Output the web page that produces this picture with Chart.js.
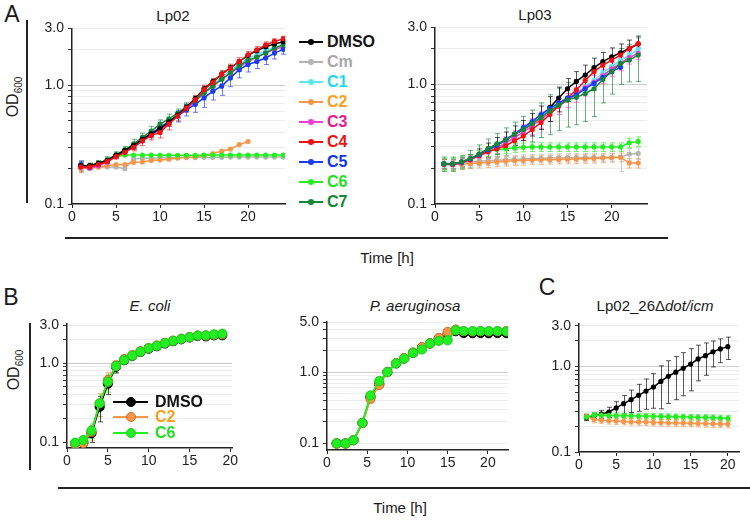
<!DOCTYPE html>
<html>
<head>
<meta charset="utf-8">
<script src="https://cdn.jsdelivr.net/npm/chart.js@4.4.0/dist/chart.umd.min.js"></script>
<style>
body { margin: 0; background: #fff; font-family: 'Liberation Sans', Arial, sans-serif; }
#wrap { position: relative; width: 750px; height: 520px; overflow: hidden; background: #fff; }
#wrap canvas { position: absolute; }
.t { position: absolute; transform: translate(-50%, -50%); white-space: nowrap; color: #1a1a1a; }
.letter { font-size: 23px; }
.title { font-size: 15px; }
.od { font-size: 16px; transform: translate(-50%, -50%) rotate(-90deg); }
.od sub { font-size: 10px; }
.rule { position: absolute; background: #222; }
.leg { position: absolute; font-weight: bold; font-size: 16px; white-space: nowrap; }
.leg .ln { position: absolute; height: 2px; }
.leg .dot { position: absolute; border-radius: 50%; }
</style>
</head>
<body>
<div id="wrap">
  <div class="t letter" style="left:12px;top:14px">A</div>
  <div class="t title" style="left:173px;top:15px">Lp02</div>
  <div class="t title" style="left:535px;top:14px">Lp03</div>
  <div class="t od" style="left:14px;top:97px">OD<sub>600</sub></div>
  <div class="rule" style="left:26px;top:20px;width:2px;height:183px"></div>
  <div class="rule" style="left:65px;top:237px;width:603px;height:2px"></div>
  <div class="t title" style="left:387px;top:257px">Time [h]</div>

  <div class="t letter" style="left:11px;top:297px">B</div>
  <div class="t title" style="left:150px;top:305px"><i>E. coli</i></div>
  <div class="t title" style="left:415px;top:305px"><i>P. aeruginosa</i></div>
  <div class="t letter" style="left:547px;top:287px">C</div>
  <div class="t title" style="left:655px;top:305px">Lp02_26Δ<i>dot/icm</i></div>
  <div class="t od" style="left:15px;top:370px">OD<sub>600</sub></div>
  <div class="rule" style="left:29px;top:323px;width:2px;height:147px"></div>
  <div class="rule" style="left:58px;top:487px;width:692px;height:2px"></div>
  <div class="t title" style="left:400px;top:507px">Time [h]</div>
</div>
<script>
// ---- panel A, Lp02 ----
var lp02Hours = [1,2,3,4,5,6,7,8,9,10,11,12,13,14,15,16,17,18,19,20,21,22,23,24];
var lp02DMSO = [0.21,0.21,0.22,0.232,0.256,0.282,0.31,0.35,0.39,0.43,0.49,0.56,0.65,0.77,0.93,1.07,1.24,1.40,1.58,1.78,1.95,2.10,2.22,2.32];
var lp02Cm   = [0.205,0.205,0.205,0.205,0.205,0.198,0.24,0.242,0.243,0.244,0.245,0.245,0.246,0.246,0.247,0.247,0.247,0.248,0.248,0.248,0.248,0.248,0.248,0.248];
var lp02C1   = [0.21,0.205,0.215,0.23,0.255,0.28,0.31,0.35,0.39,0.44,0.50,0.56,0.64,0.74,0.88,1.0,1.16,1.32,1.50,1.68,1.80,1.94,2.08,2.18];
var lp02C2   = [0.2,0.2,0.205,0.21,0.215,0.215,0.224,0.226,0.232,0.235,0.238,0.244,0.248,0.25,0.256,0.266,0.278,0.29,0.316,0.335];
var lp02C3   = [0.205,0.2,0.21,0.225,0.25,0.275,0.30,0.34,0.38,0.42,0.48,0.55,0.63,0.73,0.86,0.98,1.12,1.26,1.42,1.58,1.72,1.86,2.0,2.1];
var lp02C4   = [0.205,0.205,0.215,0.228,0.25,0.272,0.30,0.34,0.376,0.40,0.47,0.55,0.64,0.75,0.92,1.05,1.23,1.39,1.58,1.80,1.98,2.18,2.33,2.45];
var lp02C5   = [0.215,0.205,0.215,0.23,0.255,0.28,0.31,0.35,0.39,0.44,0.49,0.55,0.62,0.69,0.78,0.89,0.98,1.15,1.35,1.49,1.58,1.69,1.86,2.0];
var lp02C6   = [0.21,0.21,0.22,0.235,0.25,0.258,0.258,0.258,0.258,0.257,0.257,0.257,0.257,0.257,0.258,0.258,0.258,0.258,0.258,0.258,0.258,0.258,0.258,0.258];
var lp02C7   = [0.21,0.21,0.22,0.235,0.26,0.285,0.32,0.364,0.41,0.47,0.52,0.58,0.66,0.74,0.86,0.98,1.12,1.27,1.45,1.62,1.72,1.86,2.05,2.18];
var lp02ErrDMSO = [0.01,0.01,0.01,0.01,0.01,0.01,0.01,0.01,0.02,0.02,0.02,0.03,0.03,0.04,0.04,0.05,0.05,0.06,0.06,0.07,0.07,0.08,0.08,0.08];
var lp02ErrC1   = [0.01,0.01,0.01,0.01,0.01,0.01,0.01,0.02,0.02,0.02,0.03,0.03,0.03,0.04,0.04,0.05,0.06,0.07,0.08,0.08,0.08,0.08,0.08,0.08];
var lp02ErrC4   = [0.02,0.01,0.01,0.01,0.01,0.01,0.02,0.03,0.03,0.04,0.05,0.05,0.05,0.06,0.08,0.09,0.1,0.11,0.12,0.12,0.13,0.13,0.12,0.12];
var lp02ErrC5   = [0.015,0.01,0.01,0.01,0.01,0.01,0.02,0.02,0.03,0.03,0.04,0.06,0.07,0.1,0.13,0.14,0.16,0.18,0.2,0.2,0.2,0.2,0.2,0.18];
var lp02ErrC7   = [0.02,0.01,0.01,0.015,0.015,0.02,0.03,0.03,0.04,0.04,0.05,0.05,0.05,0.06,0.07,0.08,0.1,0.12,0.14,0.12,0.1,0.1,0.1,0.1];

// ---- panel A, Lp03 ----
var lp03Hours = [1,2,3,4,5,6,7,8,9,10,11,12,13,14,15,16,17,18,19,20,21,22,23];
var lp03DMSO = [0.217,0.217,0.224,0.239,0.259,0.283,0.31,0.34,0.38,0.42,0.47,0.54,0.64,0.77,0.92,1.06,1.20,1.38,1.55,1.70,1.84,2.0,2.18];
var lp03Cm   = [0.22,0.218,0.222,0.225,0.228,0.23,0.232,0.234,0.236,0.238,0.24,0.241,0.242,0.243,0.244,0.245,0.245,0.246,0.246,0.246,0.246,0.262,0.265];
var lp03C1   = [0.217,0.217,0.224,0.238,0.258,0.283,0.31,0.342,0.382,0.43,0.48,0.55,0.62,0.69,0.76,0.84,0.96,1.08,1.25,1.42,1.58,1.77,1.95];
var lp03C2   = [0.215,0.213,0.215,0.218,0.22,0.222,0.225,0.228,0.23,0.231,0.233,0.234,0.235,0.236,0.237,0.238,0.239,0.24,0.242,0.244,0.246,0.22,0.22];
var lp03C3   = [0.215,0.213,0.22,0.234,0.252,0.272,0.295,0.325,0.36,0.40,0.45,0.51,0.58,0.66,0.74,0.83,0.94,1.04,1.18,1.35,1.50,1.68,1.82];
var lp03C4   = [0.215,0.215,0.222,0.235,0.255,0.275,0.29,0.307,0.338,0.37,0.42,0.48,0.56,0.66,0.77,0.90,1.08,1.28,1.45,1.60,1.76,2.0,2.2];
var lp03C5   = [0.217,0.217,0.224,0.239,0.259,0.285,0.31,0.345,0.385,0.435,0.49,0.56,0.63,0.70,0.77,0.82,0.92,1.02,1.14,1.28,1.39];
var lp03C6   = [0.217,0.217,0.224,0.236,0.255,0.275,0.285,0.29,0.295,0.298,0.30,0.30,0.30,0.30,0.30,0.30,0.30,0.30,0.30,0.30,0.30,0.325,0.334];
var lp03C7   = [0.217,0.217,0.225,0.24,0.262,0.29,0.318,0.343,0.384,0.42,0.47,0.53,0.60,0.67,0.74,0.78,0.84,0.92,1.10,1.28,1.50,1.60,1.76];
var lp03ErrDMSO = [0.02,0.02,0.02,0.02,0.03,0.04,0.05,0.06,0.07,0.08,0.1,0.12,0.15,0.18,0.2,0.22,0.25,0.28,0.3,0.32,0.34,0.35,0.36];
var lp03ErrCm   = [0.02,0.02,0.02,0.02,0.02,0.02,0.02,0.02,0.02,0.02,0.02,0.02,0.02,0.02,0.02,0.02,0.02,0.02,0.02,0.02,0.06,0.03,0.03];
var lp03ErrC2   = [0.02,0.02,0.02,0.02,0.02,0.02,0.02,0.02,0.02,0.02,0.02,0.02,0.02,0.02,0.02,0.02,0.02,0.02,0.02,0.02,0.02,0.02,0.02];
var lp03ErrC3   = [0.02,0.02,0.02,0.02,0.02,0.03,0.03,0.04,0.05,0.06,0.07,0.08,0.09,0.1,0.1,0.12,0.14,0.15,0.16,0.18,0.2,0.2,0.2];
var lp03ErrC6   = [0.025,0.025,0.025,0.025,0.025,0.025,0.025,0.025,0.025,0.025,0.025,0.025,0.025,0.025,0.025,0.025,0.025,0.025,0.025,0.025,0.025,0.03,0.03];
var lp03ErrC7   = [0.03,0.03,0.03,0.04,0.05,0.06,0.07,0.09,0.1,0.12,0.14,0.17,0.22,0.26,0.3,0.32,0.35,0.38,0.4,0.45,0.5,0.55,0.7];

// ---- panel B ----
var ecoliHours = [1,2,3,4,5,6,7,8,9,10,11,12,13,14,15,16,17,18,19];
var ecoliDMSO = [0.096,0.098,0.129,0.28,0.55,0.90,1.09,1.24,1.39,1.53,1.64,1.78,1.90,2.01,2.12,2.21,2.19,2.26,2.26];
var ecoliC2   = [0.094,0.097,0.135,0.31,0.61,0.93,1.13,1.27,1.42,1.56,1.68,1.82,1.94,2.05,2.15,2.25,2.24,2.3,2.32];
var ecoliC6   = [0.098,0.106,0.14,0.31,0.58,0.92,1.10,1.25,1.40,1.55,1.66,1.80,1.92,2.03,2.14,2.24,2.26,2.32,2.37];
var ecoliErr  = [0.005,0.01,0.03,0.1,0.15,0.15,0.08,0.05,0.05,0.05,0.05,0.05,0.05,0.05,0.05,0.05,0.05,0.05,0.05];

var paHours = [1.2,2.3,3.3,4.4,5.4,6.5,7.5,8.6,9.6,10.7,11.8,12.8,13.9,15.0,16.0,17.0,18.1,19.1,20.1,21.2,22.3];
var paDMSO = [0.099,0.099,0.11,0.193,0.45,0.68,1.01,1.33,1.56,1.87,2.23,2.54,2.98,3.5,3.78,3.57,3.55,3.57,3.55,3.57,3.57];
var paC2   = [0.098,0.098,0.11,0.19,0.42,0.66,1.0,1.35,1.58,1.9,2.25,2.56,3.05,3.7,4.0,3.8,3.75,3.78,3.75,3.78,3.8];
var paC6   = [0.099,0.099,0.11,0.193,0.47,0.75,1.0,1.33,1.56,1.87,2.09,2.54,2.76,2.82,3.9,3.8,3.8,3.8,3.8,3.8,3.75];

// ---- panel C ----
var dotHours = [1,2,3,4,5,6,7,8,9,10,11,12,13,14,15,16,17,18,19,20];
var dotDMSO = [0.253,0.264,0.277,0.294,0.328,0.368,0.41,0.46,0.516,0.575,0.67,0.77,0.86,0.955,1.07,1.23,1.34,1.49,1.61,1.71];
var dotC2   = [0.26,0.24,0.235,0.232,0.23,0.228,0.226,0.225,0.224,0.222,0.221,0.22,0.219,0.218,0.217,0.216,0.215,0.214,0.213,0.212];
var dotC6   = [0.257,0.27,0.27,0.268,0.267,0.266,0.265,0.264,0.263,0.262,0.261,0.26,0.259,0.258,0.256,0.255,0.254,0.252,0.25,0.248];
var dotErrDMSO = [0.02,0.02,0.03,0.04,0.06,0.09,0.12,0.16,0.2,0.25,0.35,0.4,0.45,0.5,0.55,0.55,0.55,0.5,0.5,0.5];
var dotErrSmall = [0.02,0.02,0.02,0.02,0.02,0.02,0.02,0.02,0.02,0.02,0.02,0.02,0.02,0.02,0.02,0.02,0.02,0.02,0.02,0.02];

// tick labels
var yTicksA = [0.1,0.2,0.3,0.4,0.5,0.6,0.7,0.8,0.9,1,2,3];
var yLabelsA = [0.1,1,3];
var yTicksPa = [0.1,0.2,0.3,0.4,0.5,0.6,0.7,0.8,0.9,1,2,3,4,5];
var yLabelsPa = [0.1,1,5];

// legend
var compounds = ['DMSO','Cm','C1','C2','C3','C4','C5','C6','C7'];
var lineColors = {DMSO:'#000000', Cm:'#b4b4b4', C1:'#5ee6f2', C2:'#f7964a', C3:'#f03cd2', C4:'#ee1111', C5:'#1a3cf0', C6:'#22ee22', C7:'#15873a'};
var textColors = {DMSO:'#111111', Cm:'#a8a8a8', C1:'#22d8f0', C2:'#f7a020', C3:'#e8188c', C4:'#ee1111', C5:'#1133ee', C6:'#22e022', C7:'#118833'};

var tickFont = {family: "'Liberation Sans', Arial, sans-serif", size: 14};

function pts(xs, ys) {
  return ys.map(function(v, i) { return {x: xs[i], y: v}; });
}

function line(name, xs, ys, err, r, order) {
  return {
    label: name, data: pts(xs, ys), err: err,
    borderColor: lineColors[name], backgroundColor: lineColors[name],
    pointBackgroundColor: lineColors[name], borderWidth: 1.5,
    pointRadius: r || 2.6, pointBorderWidth: 0, tension: 0, order: order || 0
  };
}

function bigLine(name, xs, ys, err, edge, order) {
  var d = line(name, xs, ys, err, 4.6, order);
  d.pointBorderWidth = 1;
  d.pointBorderColor = edge;
  d.borderWidth = 1.8;
  return d;
}

var errorBars = {
  id: 'errorBars',
  beforeDatasetsDraw: function(chart) {
    var ctx = chart.ctx, ys = chart.scales.y, area = chart.chartArea;
    chart.data.datasets.forEach(function(ds, i) {
      if (!ds.err) return;
      var meta = chart.getDatasetMeta(i);
      ctx.save();
      ctx.strokeStyle = ds.borderColor;
      ctx.globalAlpha = 0.65;
      ctx.lineWidth = 1;
      meta.data.forEach(function(el, j) {
        var v = ds.data[j].y, e = ds.err[j];
        if (!e) return;
        var top = ys.getPixelForValue(v + e);
        var bot = v - e > ys.min ? ys.getPixelForValue(v - e) : area.bottom;
        var x = Math.round(el.x) + 0.5;
        ctx.beginPath();
        ctx.moveTo(x, top); ctx.lineTo(x, bot);
        ctx.moveTo(x - 2.5, top); ctx.lineTo(x + 2.5, top);
        if (bot < area.bottom) { ctx.moveTo(x - 2.5, bot); ctx.lineTo(x + 2.5, bot); }
        ctx.stroke();
      });
      ctx.restore();
    });
  }
};

// area = [left, top, right, bottom] of the plot box
function panel(area, xMax, yMin, yMax, yTicks, yLabels, datasets) {
  var YW = 44, PT = 12, PR = 10, XH = 28;
  var c = document.createElement('canvas');
  c.width = area[2] - area[0] + YW + PR;
  c.height = area[3] - area[1] + PT + XH;
  c.style.left = (area[0] - YW) + 'px';
  c.style.top = (area[1] - PT) + 'px';
  document.getElementById('wrap').appendChild(c);
  return new Chart(c, {
    type: 'line',
    data: {datasets: datasets},
    options: {
      responsive: false, animation: false, events: [],
      layout: {padding: {top: PT, right: PR, left: 0, bottom: 0}},
      plugins: {legend: {display: false}, tooltip: {enabled: false}},
      scales: {
        x: {
          type: 'linear', min: 0, max: xMax,
          afterFit: function(s) { s.height = XH; },
          afterBuildTicks: function(s) {
            var t = [];
            for (var v = 0; v <= xMax; v += 5) t.push({value: v});
            s.ticks = t;
          },
          ticks: {font: tickFont, color: '#222', padding: 1, maxRotation: 0, autoSkip: false},
          grid: {drawOnChartArea: false, tickLength: 4, color: '#222'},
          border: {color: '#222', width: 1.5}
        },
        y: {
          type: 'logarithmic', min: yMin, max: yMax,
          afterFit: function(s) { s.width = YW; },
          afterBuildTicks: function(s) { s.ticks = yTicks.map(function(v) { return {value: v}; }); },
          ticks: {
            font: tickFont, color: '#222', padding: 4, autoSkip: false,
            callback: function(v) { return yLabels.indexOf(v) >= 0 ? v.toFixed(1) : ''; }
          },
          grid: {
            tickLength: 4, tickColor: '#333',
            color: function(c) { return c.tick && c.tick.value === 1 ? '#cccccc' : '#ececec'; }
          },
          border: {color: '#222', width: 1.5}
        }
      }
    },
    plugins: [errorBars]
  });
}

panel([72, 28, 285, 204], 24.2, 0.1, 3, yTicksA, yLabelsA, [
  line('C4', lp02Hours, lp02C4, lp02ErrC4, 0, 1),
  line('DMSO', lp02Hours, lp02DMSO, lp02ErrDMSO, 0, 2),
  line('C7', lp02Hours, lp02C7, lp02ErrC7, 0, 3),
  line('C5', lp02Hours, lp02C5, lp02ErrC5, 0, 4),
  line('C3', lp02Hours, lp02C3, null, 0, 5),
  line('C1', lp02Hours, lp02C1, lp02ErrC1, 0, 6),
  line('C6', lp02Hours, lp02C6, null, 0, 7),
  line('C2', lp02Hours.slice(0, lp02C2.length), lp02C2, null, 0, 8),
  line('Cm', lp02Hours, lp02Cm, null, 0, 9)
]);

panel([435, 27, 647, 204], 24, 0.1, 3, yTicksA, yLabelsA, [
  line('C7', lp03Hours, lp03C7, lp03ErrC7, 0, 1),
  line('C5', lp03Hours.slice(0, lp03C5.length), lp03C5, null, 0, 2),
  line('C4', lp03Hours, lp03C4, null, 0, 3),
  line('C3', lp03Hours, lp03C3, lp03ErrC3, 0, 4),
  line('C1', lp03Hours, lp03C1, null, 0, 5),
  line('DMSO', lp03Hours, lp03DMSO, lp03ErrDMSO, 0, 6),
  line('C2', lp03Hours, lp03C2, lp03ErrC2, 0, 7),
  line('Cm', lp03Hours, lp03Cm, lp03ErrCm, 0, 8),
  line('C6', lp03Hours, lp03C6, lp03ErrC6, 0, 9)
]);

panel([67, 323, 232, 448], 20.2, 0.084, 3.2, yTicksA, yLabelsA, [
  bigLine('C6', ecoliHours, ecoliC6, ecoliErr, '#1ccc1c', 1),
  bigLine('C2', ecoliHours, ecoliC2, ecoliErr, '#c8702a', 2),
  bigLine('DMSO', ecoliHours, ecoliDMSO, ecoliErr, '#000000', 3)
]);

panel([327, 321, 508, 450], 22.5, 0.08, 5.2, yTicksPa, yLabelsPa, [
  bigLine('C6', paHours, paC6, null, '#1ccc1c', 1),
  bigLine('C2', paHours, paC2, null, '#c8702a', 2),
  bigLine('DMSO', paHours, paDMSO, null, '#000000', 3)
]);

panel([579, 323, 739, 452], 21.5, 0.1, 3.2, yTicksA, yLabelsA, [
  line('C6', dotHours, dotC6, dotErrSmall, 0, 1),
  line('C2', dotHours, dotC2, dotErrSmall, 0, 2),
  line('DMSO', dotHours, dotDMSO, dotErrDMSO, 0, 3)
]);

// legends
var wrap = document.getElementById('wrap');
function legendItem(name, y, x0, x1, dotR, textX, edge) {
  var d = document.createElement('div');
  d.className = 'leg';
  d.style.left = '0px'; d.style.top = '0px';
  var ln = document.createElement('div');
  ln.className = 'ln';
  ln.style.left = x0 + 'px'; ln.style.width = (x1 - x0) + 'px';
  ln.style.top = (y - 1) + 'px'; ln.style.background = lineColors[name];
  var dot = document.createElement('div');
  dot.className = 'dot';
  var cx = (x0 + x1) / 2;
  dot.style.left = (cx - dotR) + 'px'; dot.style.top = (y - dotR) + 'px';
  dot.style.width = dot.style.height = (2 * dotR) + 'px';
  dot.style.background = lineColors[name];
  if (edge) { dot.style.boxSizing = 'border-box'; dot.style.border = '1px solid ' + edge; }
  var tx = document.createElement('div');
  tx.style.position = 'absolute'; tx.style.left = textX + 'px'; tx.style.top = (y - 10) + 'px';
  tx.style.lineHeight = '20px'; tx.style.color = textColors[name];
  tx.textContent = name;
  d.appendChild(ln); d.appendChild(dot); d.appendChild(tx);
  wrap.appendChild(d);
}
compounds.forEach(function(n, i) { legendItem(n, 42 + i * 20, 299, 323, 3, 327); });
legendItem('DMSO', 402, 113, 148, 5, 155, '#000000');
legendItem('C2', 417, 113, 148, 5, 155, '#c8702a');
legendItem('C6', 433, 113, 148, 5, 155, '#1ccc1c');
</script>
</body>
</html>
